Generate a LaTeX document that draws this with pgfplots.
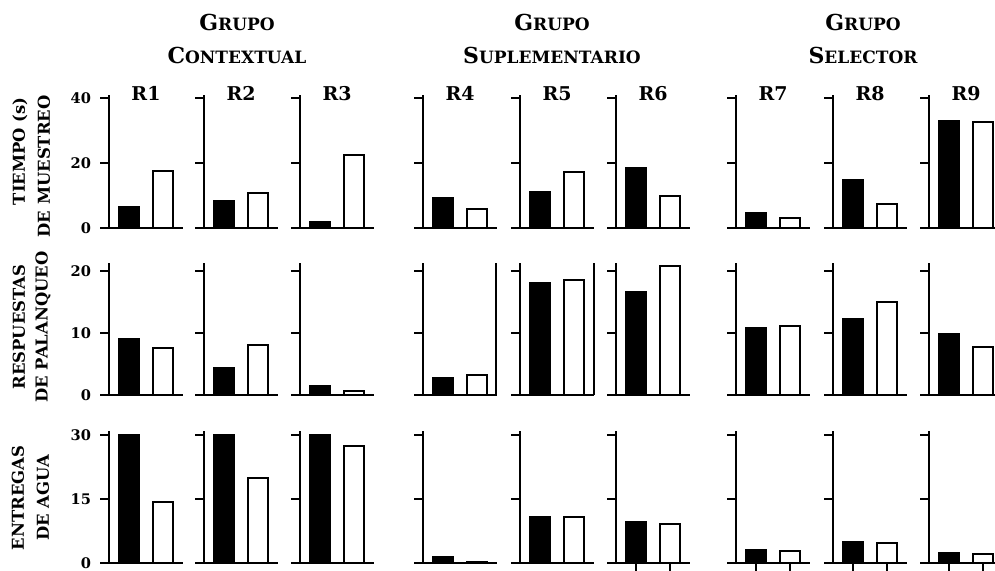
\documentclass[border=0pt]{standalone}
\usepackage{fontspec}
\setmainfont{DejaVu Serif}
\usepackage{pgfplots}
\pgfplotsset{compat=1.18}
\newcommand\sca[2]{{\fontsize{11}{11}\selectfont #1}{\fontsize{8.5}{8.5}\selectfont #2}}
\pgfplotsset{
  panel/.style={
    x=0.5pt, xmin=0, xmax=74, ymin=0,
    axis x line*=bottom, axis y line*=left,
    enlargelimits=false, clip=false,
    anchor=south west,
    tick align=outside, major tick length=4.5pt,
    every tick/.style={line width=1pt, black},
    axis line style={line width=1pt, -, black},
    x axis line style={shorten <=-4.5pt},
    xtick=\empty,
    yticklabels={},
    yticklabel style={font=\bfseries\fontsize{7.3}{7.3}\selectfont, xshift=-1pt},
    title style={font=\bfseries\fontsize{9.5}{9.5}\selectfont, anchor=base, yshift=-9pt, at={(0.5,1)}},
  },
  row1/.style={y=1.625pt, ymax=41, ytick={0,20,40}},
  row2/.style={y=3.1pt, ymax=21.3, ytick={0,10,20}},
  row3/.style={y=2.1333pt, ymax=31, ytick={0,15,30}},
  bk/.style={ybar, bar shift=0pt, bar width=20, fill=black, draw=black, line width=1pt},
  wh/.style={ybar, bar shift=0pt, bar width=20, fill=white, draw=black, line width=1pt},
}
% #1 x0 (px), #2 y0 (px), #3 row style, #4 black value, #5 white value, #6 extra options
\newcommand\panel[6]{%
  \begin{axis}[panel, #3, at={(#1*0.5pt,-#2*0.5pt)}, #6]
    \addplot[bk] coordinates {(20,#4)};
    \addplot[wh] coordinates {(54,#5)};
  \end{axis}}
\begin{document}
\begin{tikzpicture}
\useasboundingbox (0,0) rectangle (497.5pt,-285pt);
% group titles
\begin{scope}[font=\bfseries]
\node[anchor=base] at (118.5pt,-15pt) {\sca{G}{RUPO}};
\node[anchor=base] at (118.5pt,-31.5pt) {\sca{C}{ONTEXTUAL}};
\node[anchor=base] at (276pt,-15pt) {\sca{G}{RUPO}};
\node[anchor=base] at (276pt,-31.5pt) {\sca{S}{UPLEMENTARIO}};
\node[anchor=base] at (431.5pt,-15pt) {\sca{G}{RUPO}};
\node[anchor=base] at (431.5pt,-31.5pt) {\sca{S}{ELECTOR}};
\end{scope}
% row labels
\begin{scope}[font=\bfseries\fontsize{8.2}{8.2}\selectfont, inner sep=0pt]
\node[rotate=90, anchor=east] at (10pt,-48.5pt) {TIEMPO (s)};
\node[rotate=90, anchor=east] at (22pt,-47.5pt) {DE MUESTREO};
\node[rotate=90] at (9.5pt,-163.5pt) {RESPUESTAS};
\node[rotate=90] at (21.5pt,-163.5pt) {DE PALANQUEO};
\node[rotate=90] at (9pt,-249pt) {ENTREGAS};
\node[rotate=90] at (21.5pt,-249pt) {DE AGUA};
\end{scope}
% row 1: tiempo de muestreo
\panel{109}{228}{row1}{6.5}{17.5}{title=R1, yticklabels={0,20,40}}
\panel{204}{228}{row1}{8.3}{10.7}{title=R2}
\panel{300}{228}{row1}{1.8}{22.5}{title=R3}
\panel{423}{228}{row1}{9.2}{5.8}{title=R4}
\panel{520}{228}{row1}{11.1}{17.2}{title=R5}
\panel{616}{228}{row1}{18.5}{9.9}{title=R6}
\panel{736}{228}{row1}{4.6}{3.2}{title=R7}
\panel{833}{228}{row1}{14.8}{7.4}{title=R8}
\panel{929}{228}{row1}{32.9}{32.6}{title=R9}
% row 2: respuestas de palanqueo
\panel{109}{395}{row2}{9.0}{7.6}{yticklabels={0,10,20}}
\panel{204}{395}{row2}{4.3}{8.0}{}
\panel{300}{395}{row2}{1.4}{0.7}{}
\begin{axis}[panel, row2, at={(423*0.5pt,-395*0.5pt)}]
  \addplot[bk] coordinates {(20,2.8)};
  \addplot[wh] coordinates {(54,3.2)};
  \draw[line width=1pt] (axis cs:73,0) -- (axis cs:73,21.3);
\end{axis}
\begin{axis}[panel, row2, at={(520*0.5pt,-395*0.5pt)}]
  \addplot[bk] coordinates {(20,18.0)};
  \addplot[wh] coordinates {(54,18.6)};
  \draw[line width=1pt] (axis cs:74,0) -- (axis cs:74,21.3);
\end{axis}
\panel{616}{395}{row2}{16.6}{20.8}{}
\panel{736}{395}{row2}{10.8}{11.1}{}
\panel{833}{395}{row2}{12.2}{15.0}{}
\panel{929}{395}{row2}{9.8}{7.7}{}
% row 3: entregas de agua
\panel{109}{563}{row3}{30.0}{14.4}{yticklabels={0,15,30}}
\panel{204}{563}{row3}{30.1}{20.0}{}
\panel{300}{563}{row3}{30.1}{27.5}{}
\panel{423}{563}{row3}{1.5}{0.3}{}
\panel{520}{563}{row3}{10.7}{10.7}{}
\panel{616}{563}{row3}{9.5}{9.2}{xtick={20,54}, xticklabels={}}
\panel{736}{563}{row3}{3.1}{2.8}{xtick={20,54}, xticklabels={}}
\panel{833}{563}{row3}{4.9}{4.6}{xtick={20,54}, xticklabels={}}
\panel{929}{563}{row3}{2.4}{2.2}{xtick={20,54}, xticklabels={}}
\end{tikzpicture}
\end{document}
